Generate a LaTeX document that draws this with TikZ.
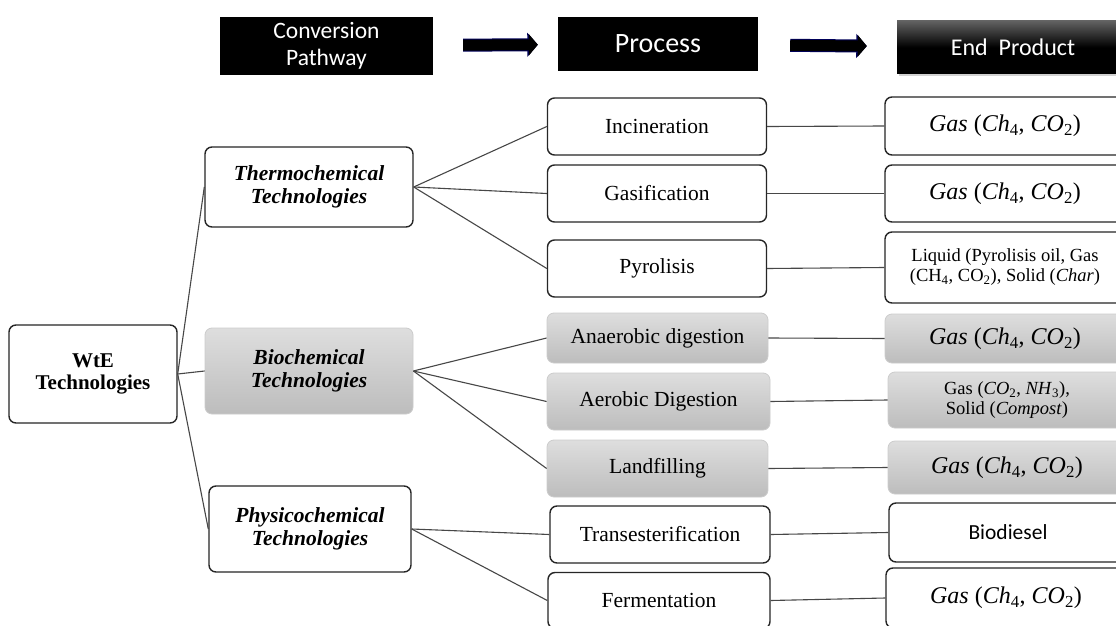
\documentclass[tikz,border=0pt]{standalone}
\usepackage{fontspec}
\setmainfont{Liberation Serif}
\newfontfamily\calfont{Carlito}
\usetikzlibrary{arrows.meta,shadows}

\newcommand{\gasmix}{\textit{Gas} (\textit{Ch}\textsubscript{4}, \textit{CO}\textsubscript{2})}

\begin{document}
\begin{tikzpicture}[x=1pt,y=-1pt,
  box/.style={draw=black!85, line width=1.4pt, rounded corners=7pt, fill=white, align=center, inner sep=0pt},
  greybox/.style={draw=black!20, line width=0.8pt, rounded corners=7pt, top color=black!13, bottom color=black!26, align=center, inner sep=0pt},
  hdr/.style={fill=black, text=white, inner sep=0pt, align=center},
  hdrarrow/.style={draw=black, line width=11pt, -{Triangle[length=9pt,width=21pt]},
    preaction={draw=blue!35!black, line width=13pt, -{Triangle[length=10.5pt,width=23.5pt]}}},
  link/.style={draw=black!72, line width=1.1pt},
  tech/.style={font=\fontsize{21.5}{23}\selectfont\bfseries\itshape},
  proc/.style={font=\fontsize{21.5}{24}\selectfont},
  prod/.style={font=\fontsize{18.5}{20}\selectfont},
  gas/.style={font=\fontsize{24}{26}\selectfont}]

\clip (0,0) rectangle (1116,626);
\fill[white] (0,0) rectangle (1116,626);

% headings
\node[hdr, minimum width=213pt, minimum height=58pt, font=\calfont\fontsize{23.5}{27}\selectfont] (conv) at (326.5,46) {Conversion\\Pathway};
\node[hdr, minimum width=200pt, minimum height=54pt, font=\calfont\fontsize{28}{30}\selectfont] (proc) at (658,44) {Process};
\node[hdr, fill=none, top color=black!62, bottom color=black, middle color=black, drop shadow={opacity=0.35}, minimum width=232pt, minimum height=53pt, font=\calfont\fontsize{24}{27}\selectfont] (prod) at (1013,47.5) {End\ \ Product};
\draw[hdrarrow, shorten <=30pt, shorten >=20pt] (conv) -- (proc);
\draw[hdrarrow, shorten <=32pt, shorten >=30pt] (proc) -- (prod);

% left side
\node[box, minimum width=168pt, minimum height=98pt, font=\fontsize{21}{22.5}\selectfont\bfseries] (wte) at (93,374) {WtE\\Technologies};
\node[box, tech, minimum width=208pt, minimum height=80pt] (thermo) at (309,187) {Thermochemical\\Technologies};
\node[greybox, tech, minimum width=208pt, minimum height=86pt] (bio) at (309,371) {Biochemical\\Technologies};
\node[box, tech, minimum width=202pt, minimum height=86pt] (physico) at (310,529) {Physicochemical\\Technologies};

% processes
\node[box, proc, minimum width=219pt, minimum height=57pt] (incin) at (657,126.5) {Incineration};
\node[box, proc, minimum width=219pt, minimum height=57pt] (gasif) at (657,193.5) {Gasification};
\node[box, proc, minimum width=219pt, minimum height=57pt] (pyro) at (657,268.5) {Pyrolisis};
\node[greybox, proc, minimum width=221pt, minimum height=50pt] (anaer) at (657.5,338) {Anaerobic digestion};
\node[greybox, proc, minimum width=223pt, minimum height=57pt] (aerob) at (658.5,401.5) {Aerobic Digestion};
\node[greybox, proc, minimum width=221pt, minimum height=57pt] (landf) at (657.5,468.5) {Landfilling};
\node[box, proc, minimum width=220pt, minimum height=57pt] (trans) at (660,534.5) {Transesterification};
\node[box, proc, minimum width=222pt, minimum height=56pt] (ferm) at (659,600.5) {Fermentation};

% end products
\node[box, gas, minimum width=240pt, minimum height=58pt] (pincin) at (1005,126) {\gasmix};
\node[box, gas, minimum width=240pt, minimum height=57pt] (pgasif) at (1005,193.5) {\gasmix};
\node[box, prod, minimum width=240pt, minimum height=71pt] (ppyro) at (1005,267.5) {Liquid (Pyrolisis oil, Gas\\(CH\textsubscript{4}, CO\textsubscript{2}), Solid (\textit{Char})};
\node[greybox, gas, minimum width=240pt, minimum height=49pt] (panaer) at (1005,338.5) {\gasmix};
\node[greybox, prod, minimum width=238pt, minimum height=56pt] (paerob) at (1007,400) {Gas (\textit{CO}\textsubscript{2}, \textit{NH}\textsubscript{3}),\\Solid (\textit{Compost})};
\node[greybox, gas, minimum width=238pt, minimum height=53pt] (plandf) at (1007,467.5) {\gasmix};
\node[box, minimum width=238pt, minimum height=59pt, font=\calfont\fontsize{21.5}{24}\selectfont] (ptrans) at (1008,532.5) {Biodiesel};
\node[box, gas, minimum width=240pt, minimum height=60pt] (pferm) at (1006,598) {\gasmix};

% connectors
\foreach \a/\b in {wte/thermo,wte/bio,wte/physico,
  thermo/incin,thermo/gasif,thermo/pyro,
  bio/anaer,bio/aerob,bio/landf,
  physico/trans,physico/ferm,
  incin/pincin,gasif/pgasif,pyro/ppyro,anaer/panaer,
  aerob/paerob,landf/plandf,trans/ptrans,ferm/pferm}
  \draw[link] (\a.east) -- (\b.west);

\end{tikzpicture}
\end{document}
